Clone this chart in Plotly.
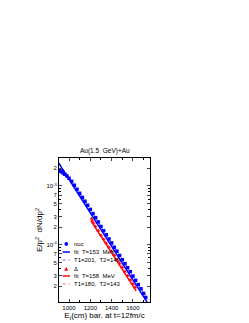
import plotly.graph_objects as go

# ---- data ----
nuc_E = [912, 920, 930, 945, 960, 980, 1000, 1025, 1050, 1075, 1100, 1125, 1150, 1175,
         1200, 1225, 1250, 1275, 1300, 1325, 1350, 1375, 1400, 1425, 1450, 1475, 1500,
         1525, 1550, 1575, 1600, 1625, 1650, 1675, 1700, 1720]
nuc_y = [1.86e-3, 1.78e-3, 1.74e-3, 1.66e-3, 1.58e-3, 1.48e-3, 1.35e-3, 1.20e-3, 1.03e-3,
         8.8e-4, 7.5e-4, 6.4e-4, 5.5e-4, 4.7e-4, 4.0e-4, 3.4e-4, 2.9e-4, 2.45e-4, 2.05e-4,
         1.74e-4, 1.48e-4, 1.26e-4, 1.08e-4, 9.1e-5, 7.8e-5, 6.6e-5, 5.6e-5, 4.8e-5, 4.1e-5,
         3.5e-5, 2.95e-5, 2.5e-5, 2.12e-5, 1.8e-5, 1.5e-5, 1.27e-5]

delta_E = [1212, 1220, 1232, 1250, 1275, 1300, 1325, 1350, 1375, 1400, 1425, 1450, 1475,
           1500, 1525, 1550, 1575, 1600, 1620]
delta_y = [2.8e-4, 2.58e-4, 2.36e-4, 2.06e-4, 1.75e-4, 1.46e-4, 1.25e-4, 1.07e-4, 9.1e-5,
           7.8e-5, 6.7e-5, 5.7e-5, 4.85e-5, 4.15e-5, 3.5e-5, 3.0e-5, 2.55e-5, 2.18e-5, 1.9e-5]

nuc_fit_E = [900, 1760]
nuc_fit_y = [2.5e-3, 8.9e-6]
nuc_2T_E = [910, 1000, 1100, 1200, 1300, 1400, 1500, 1600, 1700, 1740]
nuc_2T_y = [2.4e-3, 1.38e-3, 7.6e-4, 4.0e-4, 2.06e-4, 1.07e-4, 5.6e-5, 2.95e-5, 1.55e-5, 1.24e-5]

delta_fit_E = [1205, 1630]
delta_fit_y = [2.58e-4, 1.66e-5]
delta_2T_E = [1205, 1300, 1400, 1500, 1600, 1640]
delta_2T_y = [2.7e-4, 1.47e-4, 7.9e-5, 4.3e-5, 2.32e-5, 1.84e-5]

legend_labels = ["nuc", "fit  T=153  MeV", "T1=201,  T2=140",
                 "\u0394", "fit  T=158  MeV", "T1=180,  T2=143"]

x_ticks = [1000, 1200, 1400, 1600]
y_tickvals = [2e-5, 3e-5, 5e-5, 7e-5, 1e-4, 2e-4, 3e-4, 5e-4, 7e-4, 1e-3, 2e-3]
y_ticktext = ["2", "3", "5", "7", "10<sup>-4</sup>", "2", "3", "5", "7", "10<sup>-3</sup>", "2"]
y_minor = [1e-5 * k for k in range(1, 10)] + [1e-4 * k for k in range(1, 10)] + [1e-3 * k for k in range(1, 4)]

BLUE = "rgb(0,0,255)"
RED = "rgb(255,0,0)"
LBLUE = "rgb(110,110,255)"
LRED = "rgb(255,110,110)"
FONT = "Liberation Sans, Arial, sans-serif"

fig = go.Figure()
fig.add_trace(go.Scatter(x=nuc_2T_E, y=nuc_2T_y, mode="lines",
                         line=dict(color=LBLUE, width=1, dash="dot")))
fig.add_trace(go.Scatter(x=nuc_fit_E, y=nuc_fit_y, mode="lines",
                         line=dict(color=BLUE, width=1.5)))
fig.add_trace(go.Scatter(x=nuc_E, y=nuc_y, mode="markers",
                         marker=dict(color=BLUE, size=3.5, symbol="square")))
fig.add_trace(go.Scatter(x=delta_2T_E, y=delta_2T_y, mode="lines",
                         line=dict(color=LRED, width=1, dash="dot")))
fig.add_trace(go.Scatter(x=delta_fit_E, y=delta_fit_y, mode="lines",
                         line=dict(color=RED, width=1.5)))
fig.add_trace(go.Scatter(x=delta_E, y=delta_y, mode="markers",
                         marker=dict(color=RED, size=3.5, symbol="triangle-up")))

# manual legend (paper coordinates of the plot area)
rows = [0.403, 0.347, 0.292, 0.229, 0.181, 0.125]
colors = [BLUE, BLUE, LBLUE, RED, RED, LRED]
shapes = []
annos = []
for i, (ry, c, lab) in enumerate(zip(rows, colors, legend_labels)):
    if i not in (0, 3):
        solid = i in (1, 4)
        shapes.append(dict(type="line", xref="paper", yref="paper", x0=0.04, x1=0.12,
                           y0=ry, y1=ry, line=dict(color=c, width=1.5 if solid else 1,
                                                   dash="solid" if solid else "dot")))
    annos.append(dict(xref="paper", yref="paper", x=0.145, y=ry, text=lab, showarrow=False,
                      xanchor="left", yanchor="middle", font=dict(size=6, color="black", family=FONT)))
shapes.append(dict(type="circle", xref="paper", yref="paper", x0=0.06, x1=0.10,
                   y0=rows[0] - 0.013, y1=rows[0] + 0.013, fillcolor=BLUE, line=dict(width=0)))
shapes.append(dict(type="path", xref="paper", yref="paper",
                   path=f"M 0.058 {rows[3]-0.012} L 0.102 {rows[3]-0.012} L 0.08 {rows[3]+0.016} Z",
                   fillcolor=RED, line=dict(width=0)))

annos.append(dict(xref="paper", yref="paper", x=0.5, y=1.0, yshift=1, text="Au(1.5  GeV)+Au",
                  showarrow=False, xanchor="center", yanchor="bottom",
                  font=dict(size=6.5, color="black", family=FONT)))

fig.update_layout(
    width=249, height=323,
    margin=dict(l=51, r=107, t=150, b=29),
    paper_bgcolor="white", plot_bgcolor="white",
    showlegend=False,
    shapes=shapes, annotations=annos,
    font=dict(family=FONT, size=6, color="black"),
)
fig.update_xaxes(range=[906, 1760], tickvals=x_ticks, ticks="inside", ticklen=3,
                 showline=True, linecolor="black", linewidth=1, mirror="allticks",
                 showgrid=False, zeroline=False,
                 minor=dict(dtick=100, ticks="inside", ticklen=2, tickcolor="black"),
                 tickfont=dict(size=6),
                 title=dict(text="E<sub>t</sub>(cm) bar. at t=12fm/c", font=dict(size=8), standoff=2))
fig.update_yaxes(type="log", range=[-4.97, -2.525], tickvals=y_tickvals, ticktext=y_ticktext,
                 ticks="inside", ticklen=3, showline=True, linecolor="black", linewidth=1,
                 mirror="allticks", showgrid=False, zeroline=False,
                 minor=dict(tickvals=y_minor, ticks="inside", ticklen=2, tickcolor="black"),
                 tickfont=dict(size=6),
                 title=dict(text="E/p<sup>2</sup>  dN/dp<sup>2</sup>", font=dict(size=8), standoff=2))

fig.write_html("out.html")
